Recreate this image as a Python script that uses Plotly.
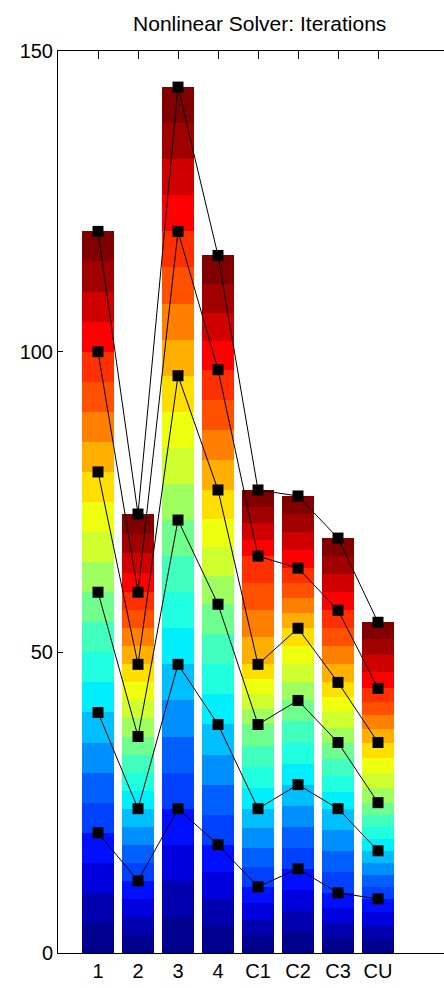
import plotly.graph_objects as go

# Case labels along the x axis
categories = ["1", "2", "3", "4", "C1", "C2", "C3", "CU"]

# Cumulative iteration counts at each of the six solver stages
stage1 = [20, 12, 24, 18, 11, 14, 10, 9]
stage2 = [40, 24, 48, 38, 24, 28, 24, 17]
stage3 = [60, 36, 72, 58, 38, 42, 35, 25]
stage4 = [80, 48, 96, 77, 48, 54, 45, 35]
stage5 = [100, 60, 120, 97, 66, 64, 57, 44]
stage6 = [120, 73, 144, 116, 77, 76, 69, 55]

y_ticks = [0, 50, 100, 150]

stages = [stage1, stage2, stage3, stage4, stage5, stage6]
SUBDIV = 4  # colour bands per stage

# 24-step jet palette, dark blue at the bottom to dark red at the top
jet_palette = [
    "#00008f", "#0000af", "#0000df", "#0010ff", "#0040ff", "#0060ff",
    "#008fff", "#00bfff", "#00efff", "#20ffdf", "#40ffbf", "#70ff8f",
    "#a0ff60", "#d0ff30", "#efff10", "#ffdf00", "#ffaf00", "#ff8000",
    "#ff5000", "#ff3000", "#ff0000", "#d00000", "#a00000", "#800000",
]

xs = list(range(1, len(categories) + 1))
fig = go.Figure()

# Stacked colour bands: each stage interval is split into equal sub-bands
for s in range(len(stages) * SUBDIV):
    g = s // SUBDIV
    lower = stages[g - 1] if g > 0 else [0] * len(xs)
    heights = [(hi - lo) / SUBDIV for hi, lo in zip(stages[g], lower)]
    fig.add_trace(go.Bar(
        x=xs, y=heights, width=0.82,
        marker=dict(color=jet_palette[s], line=dict(width=0)),
        showlegend=False, hoverinfo="skip",
    ))

# Stage markers joined across cases
for st in stages:
    fig.add_trace(go.Scatter(
        x=xs, y=st, mode="lines+markers",
        line=dict(color="black", width=1),
        marker=dict(symbol="square", size=11, color="black"),
        showlegend=False, cliponaxis=False,
    ))

# Empty trace so the top axis gets drawn
fig.add_trace(go.Scatter(x=[None], y=[None], xaxis="x2", showlegend=False, hoverinfo="skip"))

font_family = "Liberation Sans, Arial, Helvetica, sans-serif"
x_range = [0, 9.65]

fig.update_layout(
    width=444, height=988,
    margin=dict(l=58, r=0, t=51, b=35),
    barmode="stack",
    plot_bgcolor="white", paper_bgcolor="white",
    font=dict(family=font_family, color="black", size=20),
    title=dict(
        text="Nonlinear Solver: Iterations",
        x=259.7 / 444, xref="container", xanchor="center",
        y=1 - 23.5 / 988, yref="container", yanchor="middle",
        font=dict(size=21, family=font_family, color="black"),
    ),
    xaxis=dict(
        range=x_range, tickmode="array", tickvals=xs, ticktext=categories,
        ticks="", showline=True, linecolor="black", linewidth=1,
        showgrid=False, zeroline=False, tickfont=dict(size=20),
    ),
    xaxis2=dict(
        range=x_range, overlaying="x", side="top", anchor="y",
        tickmode="array", tickvals=xs, ticks="inside", ticklen=8,
        tickcolor="black", tickwidth=1, showticklabels=False,
        showline=True, linecolor="black", linewidth=1,
        showgrid=False, zeroline=False,
    ),
    yaxis=dict(
        range=[0, 150], tickmode="array", tickvals=y_ticks,
        ticks="inside", ticklen=5, tickcolor="black", tickwidth=1,
        showline=True, linecolor="black", linewidth=1,
        showgrid=False, zeroline=False, tickfont=dict(size=20),
    ),
)

fig.write_html("out.html")
